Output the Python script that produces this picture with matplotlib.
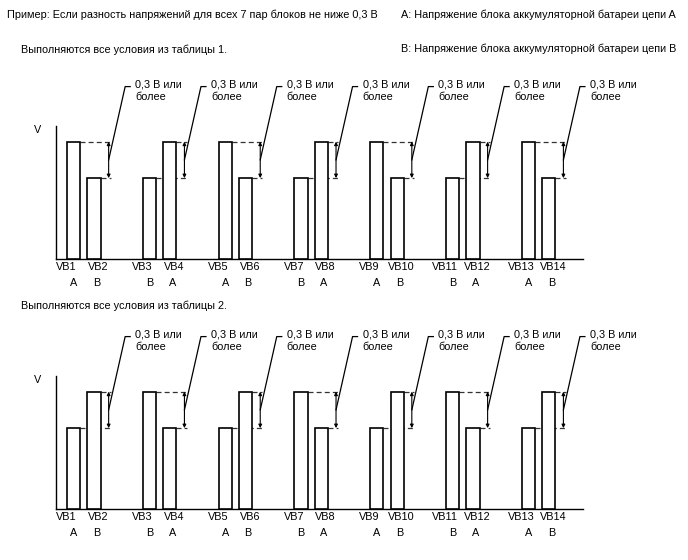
import numpy as np
import matplotlib.pyplot as plt

plt.rcParams['font.family'] = ['Liberation Sans', 'DejaVu Sans']
plt.rcParams['font.size'] = 7.8

# block labels and circuits (same in both diagrams)
labels = ['VB%d' % (i + 1) for i in range(14)]
circuits = ['A', 'B', 'B', 'A', 'A', 'B', 'B', 'A', 'A', 'B', 'B', 'A', 'A', 'B']

# relative block voltages (tall = 1.0, short = 0.69)
values_1 = [1.0, 0.69, 0.69, 1.0, 1.0, 0.69, 0.69, 1.0, 1.0, 0.69, 0.69, 1.0, 1.0, 0.69]
values_2 = [0.69, 1.0, 1.0, 0.69, 0.69, 1.0, 1.0, 0.69, 0.69, 1.0, 1.0, 0.69, 0.69, 1.0]

note = '0,3 В или\nболее'
W, H = 688, 560


def draw_panel(ax, values):
    n = len(values)
    second = np.arange(n) % 2
    x = np.arange(n) // 2 + second * 0.268
    width = 0.175
    ax.bar(x, values, width, facecolor='white', edgecolor='black', linewidth=1.2, zorder=3)

    for i in range(0, n, 2):
        hi = max(values[i], values[i + 1])
        lo = min(values[i], values[i + 1])
        right = x[i + 1] + width / 2
        arr_x = right + 0.106
        end = right + 0.135
        for k in (i, i + 1):
            ax.plot([x[k] + width / 2, end], [values[k], values[k]], ls=(0, (4, 2.5)),
                    color='#333333', lw=0.9, zorder=2)
        ax.annotate('', xy=(arr_x, hi), xytext=(arr_x, lo),
                    arrowprops=dict(arrowstyle='<|-|>', lw=0.8, shrinkA=0, shrinkB=0,
                                    mutation_scale=5, color='black'))
        ax.plot([arr_x, arr_x + 0.218, arr_x + 0.284], [0.845, 1.468, 1.468],
                color='black', lw=0.9, clip_on=False)
        ax.text(arr_x + 0.35, 1.53, note, va='top', ha='left', linespacing=1.3,
                clip_on=False)

    # block names and circuit letters under the bars
    xt = ax.get_xaxis_transform()
    for k in range(n):
        dx = 0.055 if second[k] else -0.095
        ax.text(x[k] + dx, -0.06, labels[k], transform=xt, ha='center', va='center')
        dx = 0.035 if second[k] else 0.0
        ax.text(x[k] + dx, -0.18, circuits[k], transform=xt, ha='center', va='center')

    ax.set_xlim(-0.237, 6.72)
    ax.set_ylim(0, 1.133)
    ax.set_xticks([])
    ax.set_yticks([])
    for s in ('top', 'right'):
        ax.spines[s].set_visible(False)
    for s in ('left', 'bottom'):
        ax.spines[s].set_linewidth(1.0)
    ax.text(-0.035, 0.97, 'V', transform=ax.transAxes, ha='center', va='center')


fig = plt.figure(figsize=(6.88, 5.6), dpi=100)

left = 55.7 / W
width = (583 - 55.7) / W
height = (259.3 - 126) / H
ax1 = fig.add_axes([left, (H - 259.3) / H, width, height])
ax2 = fig.add_axes([left, (H - 509.3) / H, width, height])
draw_panel(ax1, values_1)
draw_panel(ax2, values_2)


def ftext(px, py, s):
    fig.text(px / W, 1 - py / H, s, ha='left', va='center')


ftext(7, 15, 'Пример: Если разность напряжений для всех 7 пар блоков не ниже 0,3 В')
ftext(401, 15, 'A: Напряжение блока аккумуляторной батареи цепи A')
ftext(401, 49, 'B: Напряжение блока аккумуляторной батареи цепи B')
ftext(21, 50, 'Выполняются все условия из таблицы 1.')
ftext(21, 306, 'Выполняются все условия из таблицы 2.')

fig.savefig('out.png', dpi=100)
